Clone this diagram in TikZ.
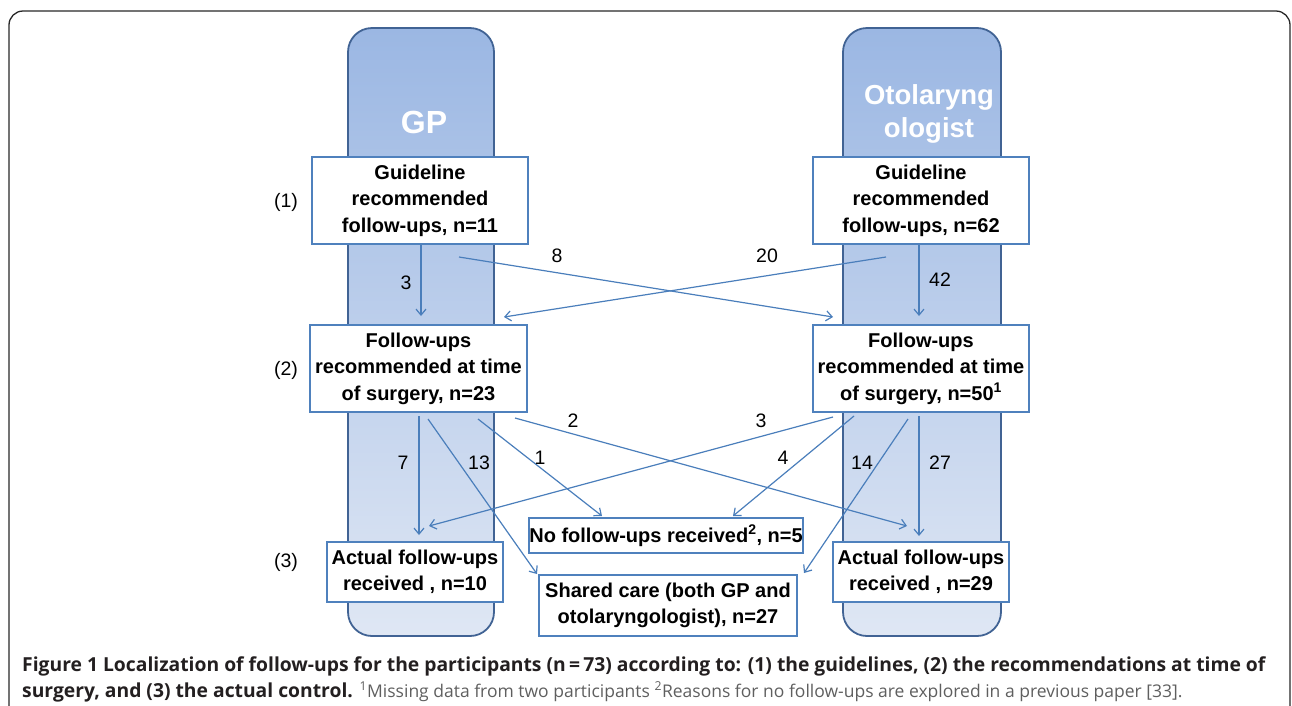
\documentclass[tikz,border=0pt]{standalone}
\usepackage{fontspec}
\setmainfont{Liberation Sans}
\newfontfamily\capfont{Open Sans}
\usetikzlibrary{arrows.meta}

\definecolor{boxblue}{RGB}{79,129,189}
\definecolor{colborder}{RGB}{65,99,148}
\definecolor{coltop}{RGB}{155,183,227}
\definecolor{colbot}{RGB}{223,231,244}
\definecolor{arrblue}{RGB}{74,126,187}
\definecolor{framegray}{RGB}{40,40,40}
\definecolor{capdark}{RGB}{35,31,32}
\definecolor{capgray}{RGB}{95,95,95}

\begin{document}
\begin{tikzpicture}[x=1pt,y=-1pt,
  column/.style={draw=colborder, line width=1.8pt, rounded corners=24pt,
    top color=coltop, bottom color=colbot, minimum height=608pt, inner sep=0pt},
  flowbox/.style={draw=boxblue, line width=2pt, fill=white, align=center,
    font=\fontsize{20}{26.5}\selectfont\bfseries, inner sep=0pt},
  arr/.style={draw=arrblue, line width=1.2pt, -{Straight Barb[length=6pt,width=10pt]}},
  num/.style={font=\fontsize{19.5}{24}\selectfont, inner sep=0pt},
  colhead/.style={text=white, font=\fontsize{27.5}{33}\selectfont\bfseries, align=center, inner sep=0pt},
  capline/.style={anchor=base west, inner sep=0pt, font=\capfont\fontsize{19.3}{24}\selectfont}
]
\useasboundingbox (0,0) rectangle (1292,705);

% outer frame
\draw[draw=framegray, line width=1.3pt, rounded corners=14pt]
  (9,720) -- (9,11) -- (1290,11) -- (1290,720);

% columns
\node[column, minimum width=146pt] (cgp) at (421,332) {};
\node[column, minimum width=158pt] (coto) at (922,332) {};
\node[colhead, font=\fontsize{32}{36}\selectfont\bfseries] (hgp) at (424,122) {GP};
\node[colhead] (hoto) at (929,114) {Otolaryng\\ologist};

% boxes
\node[flowbox, minimum width=216pt, minimum height=87pt] (g1) at (420,200.5)
  {Guideline\\recommended\\follow-ups, n=11};
\node[flowbox, minimum width=216pt, minimum height=87pt] (g2) at (921,200.5)
  {Guideline\\recommended\\follow-ups, n=62};
\node[flowbox, minimum width=217pt, minimum height=87pt] (f1) at (418.5,368.5)
  {Follow-ups\\recommended at time\\of surgery, n=23};
\node[flowbox, minimum width=216pt, minimum height=87pt] (f2) at (921,368.5)
  {Follow-ups\\recommended at time\\of surgery, n=50\textsuperscript{1}};
\node[flowbox, minimum width=176pt, minimum height=60pt] (a1) at (415,572)
  {Actual follow-ups\\received , n=10};
\node[flowbox, minimum width=176pt, minimum height=60pt] (a2) at (921,572)
  {Actual follow-ups\\received , n=29};
\node[flowbox, minimum width=274pt, minimum height=35pt] (nf) at (666,535.5)
  {No follow-ups received\textsuperscript{2}, n=5};
\node[flowbox, minimum width=258pt, minimum height=61pt] (sc) at (668,605.5)
  {Shared care (both GP and\\otolaryngologist), n=27};

% stage labels
\node[num] (s1) at (286,202) {(1)};
\node[num] (s2) at (286,370) {(2)};
\node[num] (s3) at (286,562) {(3)};

% arrows
\draw[arr] ([shift={(1,0)}]g1.south) -- ([shift={(2.5,-8)}]f1.north);
\draw[arr] ([shift={(39,12)}]g1.south) -- ([shift={(-88,-7)}]f2.north);
\draw[arr] ([shift={(-35,12)}]g2.south) -- ([shift={(85.5,-7)}]f1.north);
\draw[arr] ([shift={(-2,0)}]g2.south) -- ([shift={(-2,-8)}]f2.north);
\draw[arr] ([shift={(0.5,3)}]f1.south) -- ([shift={(4,-6)}]a1.north);
\draw[arr] ([shift={(9.5,6)}]f1.south) -- ([shift={(-1,0)}]sc.north west);
\draw[arr] ([shift={(59.5,6)}]f1.south) -- ([shift={(-64,-1)}]nf.north);
\draw[arr] ([shift={(96.5,5)}]f1.south) -- ([shift={(-14,-15)}]a2.north);
\draw[arr] ([shift={(-88,4)}]f2.south) -- ([shift={(14,-15)}]a1.north);
\draw[arr] ([shift={(-67,3)}]f2.south) -- ([shift={(67,-1)}]nf.north);
\draw[arr] ([shift={(-13,6)}]f2.south) -- ([shift={(6,-1)}]sc.north east);
\draw[arr] ([shift={(-2,3)}]f2.south) -- ([shift={(-2,-5)}]a2.north);

% arrow labels
\node[num] (l3) at (406,283) {3};
\node[num] (l8) at (557,256) {8};
\node[num] (l20) at (767,256) {20};
\node[num] (l42) at (940,280) {42};
\node[num] (l7) at (403,463) {7};
\node[num] (l13) at (479,463) {13};
\node[num] (l1) at (540,458) {1};
\node[num] (l2) at (573,421) {2};
\node[num] (l3b) at (761,421) {3};
\node[num] (l4) at (783,458) {4};
\node[num] (l14) at (862,463) {14};
\node[num] (l27) at (940,463) {27};

% caption
\node[capline, text=capdark] (cap1) at (22,671)
  {\bfseries Figure 1 Localization of follow-ups for the participants (n\,=\,73) according to: (1) the guidelines, (2) the recommendations at time of};
\node[capline] (cap2) at (22,697)
  {{\color{capdark}\bfseries surgery, and (3) the actual control.} {\color{capgray}\fontsize{17.5}{24}\selectfont\textsuperscript{1}Missing data from two participants \textsuperscript{2}Reasons for no follow-ups are explored in a previous paper [33].}};
\end{tikzpicture}
\end{document}
